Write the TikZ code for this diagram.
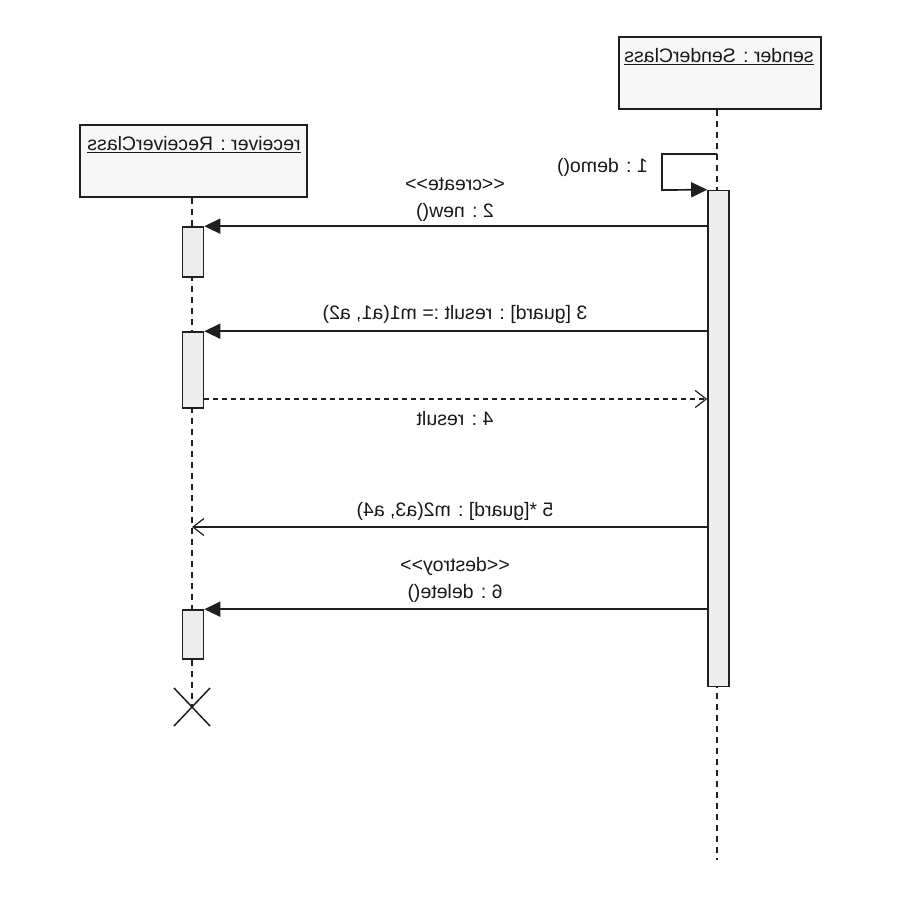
\documentclass[tikz,border=0pt]{standalone}
\usepackage{fontspec}
\setmainfont{Liberation Sans}
\usepackage{graphicx}
\usetikzlibrary{arrows.meta,calc}
\newcommand\mirtxt[1]{\reflectbox{#1}}
\begin{document}
\begin{tikzpicture}[x=1pt,y=-1pt,
  objbox/.style={draw=black!88, line width=1.8pt, fill=black!3, minimum height=72pt, inner sep=0pt},
  actbox/.style={draw=black!88, line width=1.6pt, fill=black!7, minimum width=21pt, inner sep=0pt},
  lifeline/.style={draw=black!88, line width=1.7pt, dash pattern=on 6pt off 5pt},
  msg/.style={draw=black!88, line width=1.7pt, -{Triangle[length=16pt,width=15pt]}},
  reply/.style={draw=black!88, line width=1.3pt, dash pattern=on 5pt off 4pt, -{Straight Barb[length=11pt,width=17pt,line width=1.2pt]}},
  async/.style={draw=black!88, line width=1.6pt, -{Straight Barb[length=11pt,width=17pt,line width=1.2pt]}},
  lbl/.style={font=\fontsize{19.5}{22}\selectfont, text=black!90, inner sep=0pt}
]
\useasboundingbox (0,0) rectangle (900,900);
\fill[white] (0,0) rectangle (900,900);

% objects
\node[objbox, minimum width=202pt] (sbox) at (720,73) {};
\node[lbl] (stitle) at (719,57) {\mirtxt{\underline{sender : SenderClass}}};
\node[objbox, minimum width=227pt] (rbox) at (193.5,161) {};
\node[lbl] (rtitle) at (194,145) {\mirtxt{\underline{receiver : ReceiverClass}}};

% lifeline ends
\coordinate (send) at (717,860);
\coordinate (rend) at (192,707);
\draw[lifeline] (sbox.south -| send) -- (send);
\draw[lifeline] (rbox.south -| rend) -- (rend);

% activations
\node[actbox, minimum height=496pt] (sact) at (718.5,438.5) {};
\node[actbox, minimum height=50pt] (ra1) at (193,252) {};
\node[actbox, minimum height=76pt] (ra2) at (193,370) {};
\node[actbox, minimum height=49pt] (ra3) at (193,634.5) {};

% self message
\coordinate (s1a) at (717,154);
\coordinate (s1b) at (662,154);
\coordinate (s1c) at (662,190);
\draw[msg] (s1a) -- (s1b) -- (s1c) -- (sact.north west);
\node[lbl, anchor=east] (l1) at (648,167) {\mirtxt{1 : demo()}};

% message 2
\draw[msg] (sact.west |- ra1.north) -- (ra1.north east);
\node[lbl] (l2a) at (455,184) {\mirtxt{<{}<create>{}>}};
\node[lbl] (l2b) at (455,212) {\mirtxt{2 : new()}};

% message 3
\draw[msg] (sact.west |- ra2.north) -- (ra2.north east);
\node[lbl] (l3) at (455,314) {\mirtxt{3 [guard] : result := m1(a1, a2)}};

% message 4 (reply)
\coordinate (r4) at (204,399);
\draw[reply] (r4) -- (sact.west |- r4);
\node[lbl] (l4) at (455,419) {\mirtxt{4 : result}};

% message 5
\coordinate (m5) at (708,527);
\draw[async] (m5) -- (m5 -| rend);
\node[lbl] (l5) at (455,511) {\mirtxt{5 *[guard] : m2(a3, a4)}};

% message 6
\draw[msg] (sact.west |- ra3.north) -- (ra3.north east);
\node[lbl] (l6a) at (455,566) {\mirtxt{<{}<destroy>{}>}};
\node[lbl] (l6b) at (455,593) {\mirtxt{6 : delete()}};

% destruction
\draw[black!88, line width=1.5pt] ($(rend)+(-18,-19)$) -- ($(rend)+(18,19)$);
\draw[black!88, line width=1.5pt] ($(rend)+(18,-19)$) -- ($(rend)+(-18,19)$);
\end{tikzpicture}
\end{document}
